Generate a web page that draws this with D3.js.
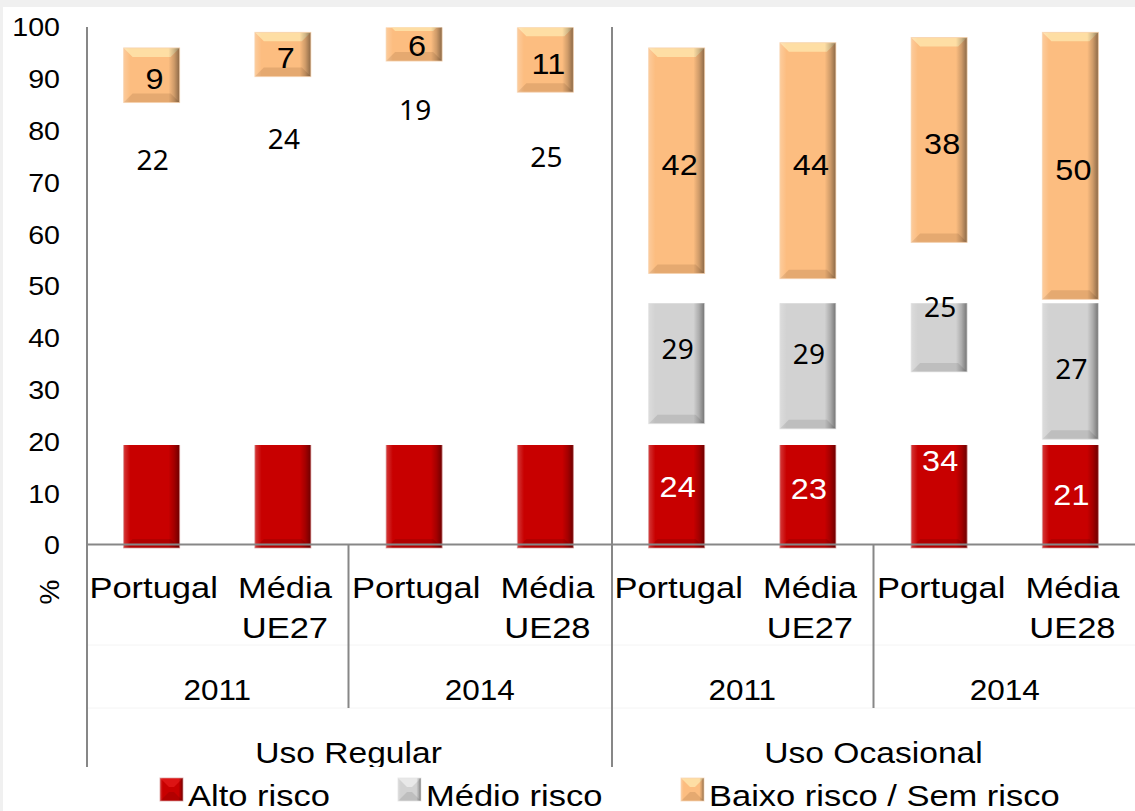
<!DOCTYPE html>
<html>
<head>
<meta charset="utf-8">
<script src="https://cdn.jsdelivr.net/npm/d3@7"></script>
<style>
  body { margin: 0; background: #f0f0f0; }
  svg { display: block; }
</style>
</head>
<body>
<svg id="chart" width="1135" height="811"></svg>
<script>
// data
var groups = ["Uso Regular", "Uso Ocasional"];
var years = ["2011", "2014"];
var places = [["Portugal"], ["Média", "UE27"], ["Portugal"], ["Média", "UE28"]];
var seriesNames = ["Alto risco", "Médio risco", "Baixo risco / Sem risco"];
var alto = [64, 67, 75, 63, 24, 23, 34, 21];
var medio = [22, 24, 19, 25, 29, 29, 25, 27];
var baixo = [9, 7, 6, 11, 42, 44, 38, 50];
var yTicks = [0, 10, 20, 30, 40, 50, 60, 70, 80, 90, 100];

// the original render cuts each series off at these heights
var clipCeil = [19.1, 46.5, 99.7];

var keys = ["alto", "medio", "baixo"];
var cats = [];
groups.forEach(function(gr, gi) {
  years.forEach(function(yr, yi) {
    [0, 1].forEach(function(pi) {
      var i = gi * 4 + yi * 2 + pi;
      cats.push({ i: i, group: gr, year: yr, place: places[yi * 2 + pi],
                  alto: alto[i], medio: medio[i], baixo: baixo[i] });
    });
  });
});

var svg = d3.select("#chart");
var font = "'Liberation Sans', Arial, sans-serif";

svg.append("rect").attr("x", 3).attr("y", 7).attr("width", 1132).attr("height", 804).attr("fill", "#fff");

var y = d3.scaleLinear().domain([0, 100]).range([544, 26]);
var x = d3.scaleBand().domain(d3.range(cats.length)).range([86, 1136]);
var barW = 56;
var bev = 4; // bevel overhang of each segment

var styles = [
  { base: "#c80000", cap: "#e01818", bot: "#8a0000", edge: "#d99a9a", id: "gRed" },
  { base: "#d2d2d2", cap: "#ececec", bot: "#9a9a9a", edge: "#e4e4e4", id: "gGray" },
  { base: "#fcbd80", cap: "#fee4aa", bot: "#b98452", edge: "#f6d3b0", id: "gOrange" }
];

var defs = svg.append("defs");
styles.forEach(function(s) {
  var lg = defs.append("linearGradient").attr("id", s.id).attr("x1", 0).attr("x2", 1).attr("y1", 0).attr("y2", 0);
  lg.append("stop").attr("offset", 0).attr("stop-color", "#fff").attr("stop-opacity", 0.22);
  lg.append("stop").attr("offset", 0.12).attr("stop-color", "#fff").attr("stop-opacity", 0);
  lg.append("stop").attr("offset", 0.8).attr("stop-color", "#000").attr("stop-opacity", 0);
  lg.append("stop").attr("offset", 0.9).attr("stop-color", "#000").attr("stop-opacity", 0.18);
  lg.append("stop").attr("offset", 1).attr("stop-color", "#000").attr("stop-opacity", 0.45);
});
clipCeil.forEach(function(c, k) {
  defs.append("clipPath").attr("id", "clip" + k)
    .append("rect").attr("x", 0).attr("y", y(c)).attr("width", 1135).attr("height", 811 - y(c));
});
defs.append("clipPath").attr("id", "clipRow")
  .append("rect").attr("x", 0).attr("y", 0).attr("width", 1135).attr("height", 767);

function bevelBox(g, bx, top, w, h, s) {
  var c = Math.min(9, h / 2);
  g.append("rect").attr("x", bx).attr("y", top).attr("width", w).attr("height", h)
    .attr("fill", s.base);
  g.append("path")
    .attr("d", "M" + bx + "," + top + "h" + w + "l" + (-c) + "," + c + "h" + (-(w - 2 * c)) + "z")
    .attr("fill", s.cap).attr("opacity", 0.85);
  g.append("path")
    .attr("d", "M" + bx + "," + (top + h) + "h" + w + "l" + (-c) + "," + (-c) + "h" + (-(w - 2 * c)) + "z")
    .attr("fill", s.bot).attr("opacity", 0.35);
  g.append("rect").attr("x", bx).attr("y", top).attr("width", w).attr("height", h)
    .attr("fill", "url(#" + s.id + ")")
    .attr("stroke", s.edge).attr("stroke-width", 1).attr("stroke-opacity", 0.7);
}

var stacked = d3.stack().keys(keys)(cats);

stacked.forEach(function(layer, k) {
  var lg = svg.append("g").attr("clip-path", "url(#clip" + k + ")");
  layer.forEach(function(d, i) {
    var top = y(d[1]) - bev;
    var bot = y(d[0]) + bev;
    var g = lg.append("g");
    bevelBox(g, x(i) + x.bandwidth() / 2 - barW / 2, top, barW, bot - top, styles[k]);
  });
});

// axes
var yAxis = svg.append("g").attr("transform", "translate(87,0)")
  .call(d3.axisLeft(y).tickValues(yTicks).tickSize(0));
yAxis.select(".domain").remove();
yAxis.selectAll("text")
  .attr("x", 0).attr("dy", "0.38em")
  .attr("transform", "translate(-27,0) scale(1.1,1)")
  .attr("font-family", font).attr("font-size", 26).attr("fill", "#000");

var xAxis = svg.append("g").attr("transform", "translate(0," + y(0) + ")")
  .call(d3.axisBottom(x).tickSize(0).tickSizeOuter(0).tickFormat(function() { return ""; }));
xAxis.select(".domain").attr("stroke", "#878787").attr("stroke-width", 2);

var lines = svg.append("g").attr("stroke", "#878787").attr("stroke-width", 2);
// faint row separators
[645, 708].forEach(function(ly) {
  svg.insert("line", "g").attr("x1", x(0)).attr("x2", 1135).attr("y1", ly).attr("y2", ly)
    .attr("stroke", "#f4f4f4").attr("stroke-width", 1);
});
[0, 4].forEach(function(i) {
  lines.append("line").attr("x1", x(i) + 1).attr("x2", x(i) + 1).attr("y1", 27).attr("y2", 767);
});
[2, 6].forEach(function(i) {
  lines.append("line").attr("x1", x(i)).attr("x2", x(i)).attr("y1", y(0)).attr("y2", 708);
});

function label(parent, str, tx, ty, size, sx, opts) {
  opts = opts || {};
  return parent.append("text")
    .attr("transform", "translate(" + tx + "," + ty + ") scale(" + sx + ",1)")
    .attr("text-anchor", opts.anchor || "middle")
    .attr("font-family", opts.family || font)
    .attr("font-size", size)
    .attr("fill", opts.fill || "#000")
    .text(str);
}

// data labels at the middle of each stacked segment
var labelsG = svg.append("g");
stacked.forEach(function(layer, k) {
  layer.forEach(function(d, i) {
    var mid = (d[0] + d[1]) / 2;
    var v = d.data[keys[k]];
    var cx = x(i) + x.bandwidth() / 2 + 1;
    if (k === 0) {
      if (mid > clipCeil[0]) return; // hidden in the original (white on white)
      label(labelsG, v, cx, y(mid) + 15, 30, 1.08, { fill: "#fff" });
    } else if (k === 1) {
      label(labelsG, v, cx, y(mid) + 14, 28, 1.0, { family: "'Noto Sans', 'Open Sans', sans-serif" });
    } else {
      label(labelsG, v, cx + 2, y(mid) + 14, 30, 1.08);
    }
  });
});

// category rows
var catG = svg.append("g");
cats.forEach(function(c, i) {
  var cx = x(i) + x.bandwidth() / 2;
  c.place.forEach(function(p, li) {
    label(catG, p, cx + 2, 598 + li * 40, 30, 1.15);
  });
});
[0, 1, 2, 3].forEach(function(j) {
  label(catG, years[j % 2], x(j * 2 + 1), 700, 30, 1.05);
});
var groupG = svg.append("g").attr("clip-path", "url(#clipRow)");
groups.forEach(function(gr, gi) {
  label(groupG, gr, x(gi * 4 + 2), 763, 30, 1.12);
});

svg.append("text").attr("transform", "translate(59,592) rotate(-90)")
  .attr("text-anchor", "middle").attr("font-family", font).attr("font-size", 28).text("%");

// legend
var legX = [160, 398, 681];
var legG = svg.append("g");
seriesNames.forEach(function(n, k) {
  var g = legG.append("g");
  bevelBox(g, legX[k], 778, 23, 23, styles[k]);
  label(legG, n, legX[k] + 28, 806, 30, 1.15, { anchor: "start" });
});
</script>
</body>
</html>
